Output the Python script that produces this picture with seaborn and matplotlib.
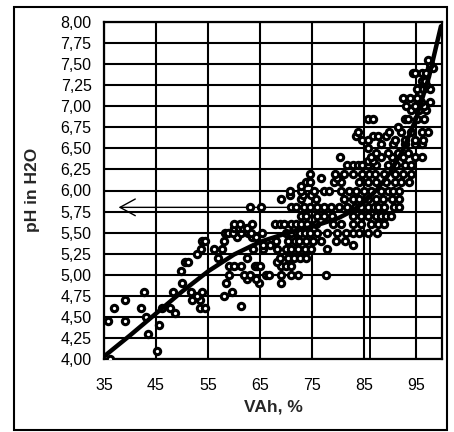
import matplotlib
matplotlib.use("Agg")
import matplotlib.pyplot as plt
import seaborn as sns
import numpy as np
import pandas as pd
from matplotlib.patches import Rectangle
from matplotlib.ticker import FuncFormatter

# ---- data ----
# pH levels (rows of the scatter) and the VAh values of the circles on each row
ph_levels = [4.00, 4.10, 4.30, 4.40, 4.45, 4.50, 4.55, 4.60, 4.63, 4.70, 4.75, 4.80,
             4.90, 4.95, 5.00, 5.05, 5.10, 5.15, 5.20, 5.25, 5.30, 5.35, 5.40, 5.45,
             5.50, 5.55, 5.60, 5.70, 5.80, 5.90, 5.95, 6.00, 6.05, 6.10, 6.15, 6.20,
             6.30, 6.35, 6.40, 6.45, 6.50, 6.55, 6.60, 6.65, 6.70, 6.75, 6.85, 6.95,
             7.00, 7.05, 7.10, 7.20, 7.25, 7.30, 7.40, 7.45, 7.50, 7.55]
vah_rows = [
    [36.2], [45.2], [43.5], [45.5], [35.8, 39.0], [43.1], [48.6],
    [37.0, 42.2, 46.1, 47.7, 53.5, 54.4], [61.3], [39.0, 52.0, 53.4], [52.9, 58.0],
    [42.6, 48.2, 51.7, 53.8, 59.6],
    [50.0, 58.5, 64.8, 69.0], [62.5, 64.2],
    [59.1, 61.9, 63.0, 66.1, 66.7, 69.0, 70.9, 72.4, 77.6], [49.9],
    [59.0, 60.0, 61.4, 64.0, 64.5, 65.0, 69.0, 70.0, 70.9], [50.6, 51.2, 68.3],
    [56.9, 62.5, 68.8, 70.4, 71.6, 72.7, 73.9], [52.9],
    [53.6, 56.2, 57.6, 63.6, 65.6, 68.3, 70.0, 70.9, 72.4, 73.7, 74.9, 77.9],
    [65.5, 67.0, 82.9],
    [53.8, 54.5, 58.0, 68.0, 70.4, 71.8, 72.5, 73.8, 75.1, 76.8, 79.6, 81.3],
    [60.6, 63.5, 64.2],
    [58.2, 58.9, 59.9, 61.4, 62.7, 63.2, 65.4, 70.0, 71.0, 72.2, 72.7, 73.6, 74.7,
     75.9, 77.9, 79.9, 81.5, 82.9, 84.1, 85.8, 87.5],
    [60.0, 60.9, 61.8, 62.5],
    [60.0, 61.2, 63.4, 67.8, 68.8, 69.6, 70.9, 71.9, 72.8, 74.1, 75.7, 79.0, 80.5,
     82.8, 84.4, 86.4, 87.6, 88.9],
    [72.8, 73.9, 75.9, 77.3, 78.9, 82.9, 84.5, 85.8, 87.3, 88.3, 89.2, 90.1],
    [63.1, 65.2, 70.9, 72.0, 73.5, 74.7, 76.0, 77.3, 78.7, 80.2, 81.8, 83.2, 84.5,
     85.8, 87.0, 87.7, 88.9, 90.7, 91.8],
    [69.0, 72.9, 75.7, 81.2, 82.8, 84.1, 85.8, 87.3, 88.7, 90.3, 91.8],
    [70.8, 73.3, 74.9],
    [70.8, 72.9, 75.3, 77.3, 78.3, 80.5, 82.1, 83.4, 85.0, 86.4, 88.3, 89.6, 90.6, 91.8],
    [72.8],
    [73.8, 74.6, 79.3, 80.5, 84.1, 85.7, 87.3, 89.3, 90.9, 92.2, 93.6],
    [76.8, 79.8],
    [74.6, 79.4, 81.2, 82.8, 84.7, 86.0, 87.2, 88.9, 90.9, 92.5, 94.1],
    [81.8, 82.8, 83.8, 84.7, 85.7, 87.3, 89.6, 91.2, 92.8, 94.1],
    [85.8, 86.8],
    [80.4, 86.4, 88.3, 90.3, 92.5, 94.8, 96.1],
    [87.3, 89.6, 91.5, 93.5],
    [85.7],
    [88.3, 90.6, 92.8, 94.8, 96.1],
    [84.7, 85.8, 90.9, 92.8, 94.8, 96.4],
    [83.5, 86.8, 87.7, 89.3],
    [83.8, 89.9, 92.2, 94.1, 96.1, 97.3],
    [91.5],
    [85.7, 86.8, 92.8, 93.5, 95.1, 96.6],
    [94.1, 95.6, 97.0],
    [93.1, 94.8, 96.6],
    [96.0, 97.6],
    [92.5, 93.8, 95.1],
    [95.1, 96.4, 97.6],
    [97.0],
    [96.1, 96.8],
    [94.4, 94.8, 96.1, 97.0],
    [97.6, 98.3],
    [97.7],
    [97.3],
]

# trend curve
trend_vah = [35, 40, 45, 50, 55, 60, 65, 70, 75, 80, 82.5, 85, 87.5, 90, 92.5, 95, 97.5, 99.8]
trend_ph = [4.03, 4.28, 4.54, 4.80, 5.04, 5.24, 5.39, 5.49, 5.57, 5.67, 5.75, 5.86,
            6.01, 6.21, 6.48, 6.85, 7.35, 7.95]

# reading arrow
read_vah = 86.2
read_ph = 5.80
arrow_end_vah = 37.8

x_ticks = [35, 45, 55, 65, 75, 85, 95]
y_ticks = [4.00 + 0.25 * i for i in range(17)]

# ---- build table ----
rows = []
for p, xs in zip(ph_levels, vah_rows):
    for v in xs:
        rows.append((v, p))
df = pd.DataFrame(rows, columns=["VAh", "pH"])
trend = pd.DataFrame({"VAh": trend_vah, "pH": trend_ph})

sns.set_style("white")
plt.rcParams["font.family"] = ["Liberation Sans", "DejaVu Sans"]

W, H = 454, 432
fig = plt.figure(figsize=(W / 100, H / 100), dpi=100)
L, R, T, B = 104, 442, 22, 359
ax = fig.add_axes([L / W, 1 - B / H, (R - L) / W, (B - T) / H])

sns.scatterplot(data=df, x="VAh", y="pH", ax=ax, marker="o", s=21,
                color="white", edgecolor="black", linewidth=2.2, zorder=3)
sns.lineplot(data=trend, x="VAh", y="pH", ax=ax, color="black", lw=3.2,
             zorder=4, sort=True)

ax.plot([read_vah, read_vah], [4.0, read_ph], color="black", lw=1.4, zorder=2.5)
ax.annotate("", xy=(arrow_end_vah, read_ph), xytext=(read_vah, read_ph),
            arrowprops=dict(arrowstyle="->,head_length=0.55,head_width=0.3",
                            lw=1.0, color="black", mutation_scale=20,
                            shrinkA=0, shrinkB=0), zorder=2.5)

ax.set_xlim(35, 100)
ax.set_ylim(4.0, 8.0)
ax.set_xticks(x_ticks)
ax.set_yticks(y_ticks)
ax.xaxis.set_major_formatter(FuncFormatter(lambda v, p: f"{v:.0f}"))
ax.yaxis.set_major_formatter(FuncFormatter(lambda v, p: f"{v:.2f}".replace(".", ",")))
ax.grid(True, color="black", lw=1.5)
ax.set_axisbelow(True)
for s in ax.spines.values():
    s.set_color("black")
    s.set_linewidth(1.6)
    s.set_visible(True)
ax.tick_params(axis="y", direction="out", length=5, width=1.5, pad=4,
               labelsize=11.5, colors="black")
ax.tick_params(axis="x", direction="out", length=5, width=1.5, pad=9,
               labelsize=11.5, colors="black")
ax.set_xlabel("")
ax.set_ylabel("")

fig.text(273 / W, 1 - 407 / H, "VAh, %", ha="center", va="center",
         fontsize=12.5, fontweight="bold")
fig.text(33 / W, 1 - 190 / H, "pH in H2O", ha="center", va="center",
         rotation=90, fontsize=12.5, fontweight="bold")

fig.add_artist(Rectangle((14 / W, 1 - 430 / H), (447 - 14) / W, (430 - 7) / H,
                         transform=fig.transFigure, fill=False, lw=1.5,
                         edgecolor="black"))

fig.savefig("out.png", dpi=100)
